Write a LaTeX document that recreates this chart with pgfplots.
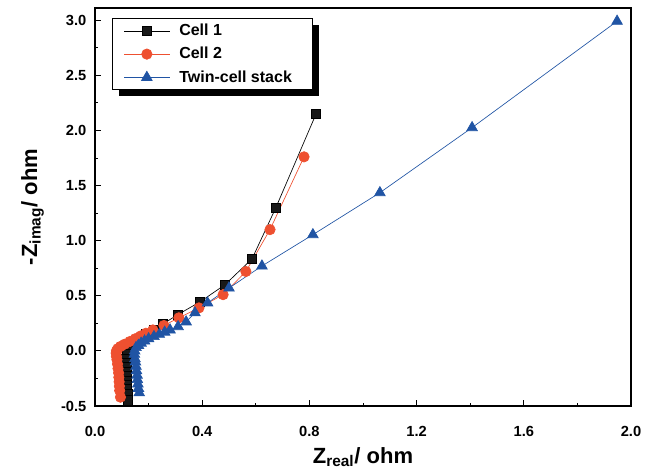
\documentclass[border=0pt]{standalone}
\usepackage{fontspec}
\setmainfont{Liberation Sans}
\usepackage{pgfplots}
\pgfplotsset{compat=1.18}
\usetikzlibrary{shadows,calc}
\definecolor{cellRed}{RGB}{238,80,48}
\definecolor{cellBlue}{RGB}{32,84,164}
\makeatletter
\tikzset{no preactions/.code={\let\tikz@preactions\pgfutil@empty}}
\makeatother

\begin{document}
\begin{tikzpicture}
\begin{axis}[
  scale only axis,
  width=402pt,height=298.5pt,
  xmin=0,xmax=2.0,
  ymin=-0.5,ymax=3.11,
  xtick={0,0.4,0.8,1.2,1.6,2.0},
  ytick={-0.5,0,0.5,1.0,1.5,2.0,2.5,3.0},
  minor x tick num=1,
  minor y tick num=1,
  tick pos=left,
  tick align=inside,
  major tick length=4.5pt,
  minor tick length=2.5pt,
  every tick/.style={black,line width=0.6pt},
  axis line style={line width=0.8pt},
  xticklabel style={yshift=-12pt,/pgf/number format/.cd,fixed,fixed zerofill,precision=1,assume math mode=true},
  yticklabel style={xshift=-3pt,/pgf/number format/.cd,fixed,fixed zerofill,precision=1,assume math mode=true},
  tick label style={font=\fontsize{11}{13}\selectfont\bfseries},
  xlabel={Z\textsubscript{real}/ ohm},
  ylabel={-Z\textsubscript{imag}/ ohm},
  label style={font=\fontsize{16.5}{18}\selectfont\bfseries},
  xlabel style={yshift=-1pt},
  ylabel style={yshift=6pt},
  legend style={at={(0.032,0.975)},anchor=north west,draw=black,line width=0.6pt,fill=white,
    font=\fontsize{12}{14}\selectfont\bfseries,
    drop shadow={shadow xshift=5pt,shadow yshift=-5pt,fill=black,opacity=1},
    row sep=3pt,
    /tikz/every odd column/.append style={column sep=5pt}},
  legend image code/.code={%
    \path[no preactions] (-0.19cm,0.25cm) (0cm,-0.15cm);
    \draw[no preactions,mark repeat=2,mark phase=2] plot coordinates {(0cm,0cm) (0.6cm,0cm) (1.2cm,0cm)};},
  legend cell align=left,
  clip=false,
]
\addplot[black,line width=0.5pt,mark=square*,mark size=3.5pt,mark options={fill=black!90}] coordinates {
(0.825,2.15) (0.675,1.30) (0.586,0.835) (0.485,0.60) (0.392,0.445) (0.31,0.33) (0.254,0.245)
(0.22,0.19) (0.19,0.15) (0.17,0.12) (0.155,0.09) (0.145,0.07) (0.135,0.04) (0.128,0.02)
(0.122,0.0) (0.118,-0.03) (0.117,-0.07) (0.117,-0.11) (0.118,-0.15) (0.118,-0.19)
(0.119,-0.23) (0.119,-0.27) (0.12,-0.31) (0.12,-0.35) (0.121,-0.39) (0.122,-0.45)};
\addlegendentry{Cell 1}
\addplot[cellRed,line width=0.5pt,mark=*,mark size=3.9pt,mark options={fill=cellRed}] coordinates {
(0.78,1.76) (0.653,1.10) (0.563,0.72) (0.478,0.51) (0.388,0.39) (0.313,0.30) (0.257,0.23)
(0.216,0.19) (0.19,0.16) (0.17,0.135) (0.15,0.11) (0.13,0.085) (0.11,0.06) (0.095,0.04)
(0.085,0.02) (0.08,0.0) (0.079,-0.02) (0.08,-0.05) (0.082,-0.08) (0.084,-0.12)
(0.086,-0.16) (0.088,-0.2) (0.089,-0.24) (0.09,-0.28) (0.091,-0.32) (0.092,-0.36) (0.095,-0.42)};
\addlegendentry{Cell 2}
\addplot[cellBlue,line width=0.5pt,mark=triangle*,mark size=4.6pt,mark options={fill=cellBlue}] coordinates {
(1.948,2.99) (1.407,2.025) (1.063,1.435) (0.813,1.054) (0.623,0.77) (0.50,0.57) (0.42,0.435)
(0.373,0.345) (0.34,0.263) (0.31,0.22) (0.28,0.19) (0.26,0.17) (0.24,0.15) (0.22,0.13)
(0.2,0.11) (0.185,0.09) (0.172,0.07) (0.162,0.05) (0.153,0.03) (0.148,0.0) (0.147,-0.03)
(0.149,-0.07) (0.151,-0.1) (0.153,-0.14) (0.155,-0.18) (0.157,-0.22) (0.158,-0.26)
(0.16,-0.3) (0.162,-0.34) (0.165,-0.38)};
\addlegendentry{Twin-cell stack\hspace*{10pt}}
\end{axis}
\path[use as bounding box] ($(current axis.south west)+(-71.25pt,-50.25pt)$) rectangle ($(current axis.north east)+(18.75pt,6pt)$);
\end{tikzpicture}
\end{document}
